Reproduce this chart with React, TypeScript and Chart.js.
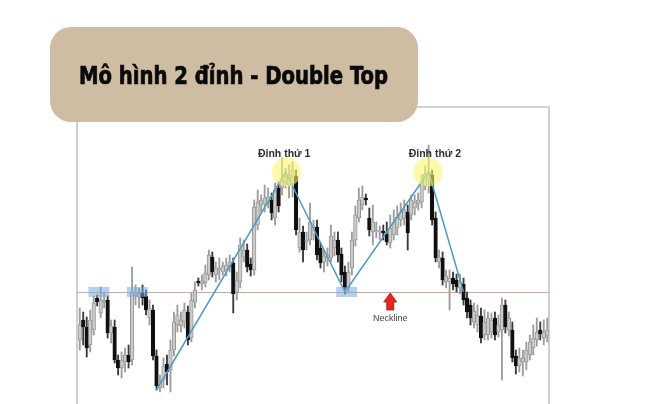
import React, { useEffect, useRef } from "react";
import { Chart, registerables } from "chart.js";

Chart.register(...registerables);

// ---- candle data (price units) ----
const candleOpen = [
  64, 84, 77, 59, 74, 106, 91, 102, 104, 71, 77, 44, 36, 42, 49, 44, 108, 107, 111, 108,
  86, 94, 48, 16, 24, 40, 34, 54, 79, 78, 82, 92, 66, 102, 123, 120, 121, 129, 147, 129,
  134, 132, 134, 137, 141, 112, 122, 147, 154, 140, 134, 179, 199, 200, 202, 204, 186, 216, 216, 222,
  219, 220, 228, 156, 172, 162, 164, 169, 177, 156, 142, 146, 146, 156, 164, 150, 132, 116, 136, 164,
  186, 199, 206, 186, 172, 173, 172, 173, 170, 161, 169, 176, 184, 186, 192, 189, 196, 200, 202, 218,
  224, 229, 186, 142, 146, 122, 122, 126, 124, 116, 120, 106, 99, 82, 79, 88, 69, 69, 72, 86,
  72, 74, 99, 74, 74, 48, 38, 42, 42, 49, 56, 64, 74, 66, 68,
];
const candleHigh = [
  96, 92, 87, 94, 108, 109, 117, 111, 108, 84, 84, 49, 52, 56, 59, 137, 119, 116, 119, 114,
  104, 99, 54, 29, 46, 49, 64, 92, 99, 92, 101, 98, 111, 122, 126, 129, 139, 154, 152, 142,
  146, 142, 146, 149, 146, 132, 166, 164, 160, 146, 204, 214, 209, 219, 216, 211, 221, 222, 246, 236,
  239, 242, 234, 186, 178, 172, 201, 184, 184, 161, 154, 156, 179, 172, 172, 156, 138, 142, 172, 198,
  216, 218, 210, 196, 199, 182, 178, 179, 182, 189, 194, 198, 201, 204, 199, 209, 209, 211, 229, 238,
  259, 234, 192, 154, 152, 134, 134, 132, 130, 130, 126, 112, 104, 101, 99, 96, 94, 92, 91, 92,
  89, 106, 104, 92, 82, 54, 56, 54, 62, 69, 79, 86, 82, 84, 86,
];
const candleLow = [
  54, 59, 47, 52, 69, 98, 86, 96, 66, 61, 41, 29, 26, 32, 36, 39, 99, 96, 99, 89,
  79, 44, 14, 12, 16, 19, 12, 48, 72, 72, 76, 59, 62, 96, 118, 114, 117, 124, 127, 122,
  124, 129, 128, 132, 91, 104, 116, 142, 132, 128, 129, 174, 192, 192, 196, 184, 179, 192, 209, 216,
  206, 207, 169, 152, 142, 154, 159, 164, 144, 136, 132, 138, 142, 148, 142, 122, 110, 112, 129, 158,
  182, 194, 199, 168, 159, 166, 164, 164, 159, 156, 164, 169, 178, 179, 154, 184, 189, 194, 196, 214,
  211, 179, 142, 136, 119, 116, 94, 114, 112, 110, 99, 86, 79, 76, 72, 61, 64, 64, 66, 64,
  67, 24, 71, 68, 42, 30, 32, 28, 34, 44, 49, 58, 64, 59, 62,
];
const candleClose = [
  79, 77, 56, 84, 101, 102, 104, 104, 71, 78, 44, 36, 44, 49, 42, 112, 112, 111, 106, 94,
  96, 48, 18, 22, 38, 32, 54, 82, 89, 84, 94, 64, 104, 114, 121, 123, 131, 149, 132, 136,
  136, 138, 139, 142, 110, 124, 159, 154, 137, 134, 197, 202, 204, 206, 207, 191, 214, 198, 224, 228,
  229, 234, 174, 172, 154, 164, 182, 178, 149, 141, 148, 149, 168, 164, 149, 129, 116, 132, 164, 189,
  204, 207, 204, 174, 182, 174, 173, 171, 162, 176, 182, 187, 192, 194, 171, 204, 202, 204, 221, 230,
  232, 184, 146, 147, 124, 128, 126, 120, 117, 122, 104, 92, 86, 93, 89, 66, 82, 86, 84, 69,
  79, 99, 77, 86, 46, 38, 46, 46, 54, 62, 66, 72, 70, 72, 74,
];
const candleLabels = candleOpen.map((_, i) => String(i + 1));

// ---- pattern annotations ----
const necklineValue = 112;
const zigzagIndex = [22, 59, 76, 100, 110];
const zigzagValue = [14, 232, 112, 232, 112];
const supportZones = [
  [3, 8],
  [14, 19],
  [74, 79],
];
const peakIndex = [59.3, 99.8];
const peakValue = [232, 232];
const peakLabels = ["Đỉnh thứ 1", "Đỉnh thứ 2"];
const peakLabelIndex = [58.6, 101.8];
const peakLabelValue = [247, 247];
const necklineLabel = "Neckline";
const necklineLabelIndex = 89;
const titleText = "Mô hình 2 đỉnh - Double Top";

const yMin = 0;
const yMax = 297;

const isUp = (i: number) => candleClose[i] >= candleOpen[i];

const zigzagData: (number | null)[] = candleOpen.map(() => null);
zigzagIndex.forEach((idx, k) => {
  zigzagData[idx] = zigzagValue[k];
});

const decorPlugin = {
  id: "decor",
  beforeDatasetsDraw(chart: any) {
    const { ctx, chartArea, scales } = chart;
    const y = scales.y;
    ctx.save();
    // frame
    ctx.strokeStyle = "#c4c4c4";
    ctx.lineWidth = 1.6;
    ctx.beginPath();
    ctx.moveTo(chartArea.left - 1, chartArea.bottom);
    ctx.lineTo(chartArea.left - 1, chartArea.top);
    ctx.lineTo(chartArea.right, chartArea.top);
    ctx.lineTo(chartArea.right, chartArea.bottom);
    ctx.stroke();
    // neckline
    const ny = Math.round(y.getPixelForValue(necklineValue)) + 0.5;
    ctx.strokeStyle = "#d9a395";
    ctx.lineWidth = 1;
    ctx.beginPath();
    ctx.moveTo(chartArea.left - 1, ny);
    ctx.lineTo(chartArea.right, ny);
    ctx.stroke();
    ctx.restore();
  },
  afterDatasetsDraw(chart: any) {
    const { ctx, scales } = chart;
    const x = scales.x;
    const y = scales.y;
    const half = (x.getPixelForValue(1) - x.getPixelForValue(0)) / 2;
    ctx.save();
    // support zones on neckline
    ctx.fillStyle = "rgba(120,170,225,0.55)";
    const zTop = y.getPixelForValue(necklineValue + 5);
    const zBot = y.getPixelForValue(necklineValue - 5);
    supportZones.forEach(([a, b]) => {
      const l = x.getPixelForValue(a) - half;
      const r = x.getPixelForValue(b) + half;
      ctx.fillRect(l, zTop, r - l, zBot - zTop);
    });
    // peak highlights
    ctx.fillStyle = "rgba(250,246,110,0.6)";
    peakIndex.forEach((pi, k) => {
      ctx.beginPath();
      ctx.arc(x.getPixelForValue(pi), y.getPixelForValue(peakValue[k]), 14.5, 0, Math.PI * 2);
      ctx.fill();
    });
    // peak labels
    ctx.fillStyle = "#2e2e2e";
    ctx.font = "bold 10.5px 'Liberation Sans', Arial, sans-serif";
    ctx.textAlign = "center";
    ctx.textBaseline = "alphabetic";
    peakLabels.forEach((t, k) => {
      ctx.fillText(t, x.getPixelForValue(peakLabelIndex[k]), y.getPixelForValue(peakLabelValue[k]));
    });
    // neckline arrow
    const ax = x.getPixelForValue(necklineLabelIndex);
    const ay = y.getPixelForValue(necklineValue) + 1;
    ctx.beginPath();
    ctx.moveTo(ax, ay);
    ctx.lineTo(ax + 6.5, ay + 9);
    ctx.lineTo(ax + 3.5, ay + 9);
    ctx.lineTo(ax + 3.5, ay + 17);
    ctx.lineTo(ax - 3.5, ay + 17);
    ctx.lineTo(ax - 3.5, ay + 9);
    ctx.lineTo(ax - 6.5, ay + 9);
    ctx.closePath();
    ctx.fillStyle = "#e3261f";
    ctx.fill();
    ctx.strokeStyle = "#9c1512";
    ctx.lineWidth = 0.8;
    ctx.stroke();
    ctx.fillStyle = "#444444";
    ctx.font = "9px 'Liberation Sans', Arial, sans-serif";
    ctx.fillText(necklineLabel, ax, ay + 28);
    ctx.restore();
  },
  afterDraw(chart: any) {
    const { ctx } = chart;
    ctx.save();
    // title box
    ctx.fillStyle = "#cebda2";
    ctx.beginPath();
    ctx.roundRect(50, 27, 368, 95, 21);
    ctx.fill();
    ctx.fillStyle = "#0a0a0a";
    ctx.strokeStyle = "#0a0a0a";
    ctx.lineWidth = 0.7;
    ctx.font = "bold 24px 'Liberation Sans Narrow', 'DejaVu Sans Condensed', 'Roboto', sans-serif";
    ctx.textAlign = "left";
    ctx.textBaseline = "alphabetic";
    const w = ctx.measureText(titleText).width;
    const target = 309;
    ctx.translate(79, 83.5);
    ctx.scale(target / w, 1);
    ctx.fillText(titleText, 0, 0);
    ctx.strokeText(titleText, 0, 0);
    ctx.restore();
  },
};

export default function App() {
  const ref = useRef<HTMLCanvasElement | null>(null);
  useEffect(() => {
    if (!ref.current) return;
    const chart = new Chart(ref.current, {
      type: "bar",
      data: {
        labels: candleLabels,
        datasets: [
          {
            type: "line",
            label: "Zigzag",
            data: zigzagData,
            borderColor: "#4c9bc3",
            borderWidth: 1.5,
            pointRadius: 0,
            spanGaps: true,
            tension: 0,
            order: 0,
          } as any,
          {
            type: "bar",
            label: "Body",
            data: candleOpen.map((o, i) => [o, candleClose[i]]),
            backgroundColor: candleOpen.map((_, i) => (isUp(i) ? "#cbcbcb" : "#101010")),
            borderColor: candleOpen.map((_, i) => (isUp(i) ? "#8e8e8e" : "#101010")),
            borderWidth: 0.9,
            borderSkipped: false,
            barThickness: 3.6,
            grouped: false,
            minBarLength: 1,
            order: 1,
          } as any,
          {
            type: "bar",
            label: "Wick",
            data: candleLow.map((l, i) => [l, candleHigh[i]]),
            backgroundColor: candleOpen.map((_, i) => (isUp(i) ? "#9c9c9c" : "#3a3a3a")),
            barThickness: 1.2,
            grouped: false,
            order: 2,
          } as any,
        ],
      },
      options: {
        responsive: false,
        animation: false,
        devicePixelRatio: 1,
        layout: { padding: { left: 78, right: 111, top: 107, bottom: 0 } },
        scales: {
          x: { display: false, offset: true, grid: { display: false } },
          y: { display: false, min: yMin, max: yMax, grid: { display: false } },
        },
        plugins: {
          legend: { display: false },
          tooltip: { enabled: false },
          title: { display: false },
        },
      },
      plugins: [decorPlugin],
    });
    return () => chart.destroy();
  }, []);
  return (
    <div style={{ position: "fixed", left: 0, top: 0, width: 660, height: 404, background: "#ffffff" }}>
      <canvas ref={ref} width={660} height={404} style={{ display: "block", width: 660, height: 404 }} />
    </div>
  );
}
